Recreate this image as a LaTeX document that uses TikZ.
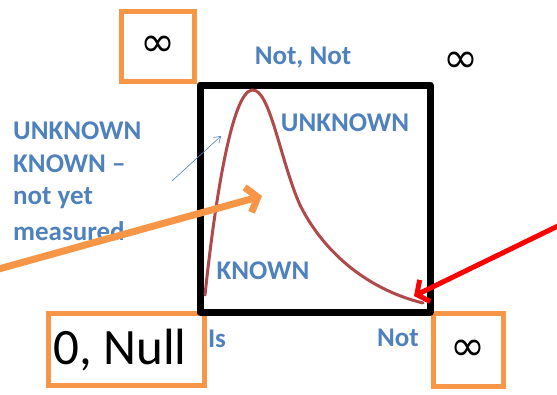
\documentclass[tikz,border=0pt]{standalone}
\usepackage{fontspec}
\setmainfont{Carlito}
\newfontfamily\dvs{DejaVu Sans}
\usetikzlibrary{arrows.meta}
\definecolor{ofc}{HTML}{F79646}
\definecolor{bluetxt}{HTML}{4F81BD}
\definecolor{curvec}{HTML}{B04A4A}
\tikzset{
  lbl/.style={text=bluetxt,font=\fontsize{27}{30}\selectfont\bfseries,inner sep=0pt},
  obox/.style={draw=ofc,line width=5pt},
  inf/.style={font=\dvs\fontsize{42}{42}\selectfont,inner sep=0pt},
}
\begin{document}
\begin{tikzpicture}[x=1pt,y=-1pt]
\useasboundingbox (0,0) rectangle (557,394);
% orange boxes
\node[obox,minimum width=73pt,minimum height=70pt] (tl) at (158,46) {};
\node[inf] (inftl) at (158,46) {∞};
\node[obox,minimum width=156pt,minimum height=72pt] (bl) at (126,349) {};
\node[inner sep=0pt,font=\fontsize{51}{51}\selectfont] (zero) at (120,350) {0, Null};
\node[obox,minimum width=70pt,minimum height=73pt] (br) at (468,350) {};
\node[inf] (infbr) at (468,350) {∞};
\node[inf] (inftr) at (461,62) {∞};
% black square
\draw[line width=7pt,line join=round] (200,85) rectangle (430,312);
% curve
\draw[curvec,line width=3pt,line cap=round]
  (205,295) .. controls (215,200) and (232,92) .. (252,90)
  .. controls (270,88) and (280,160) .. (300,205)
  .. controls (325,255) and (370,290) .. (423,303);
% labels
\node[lbl] (notnot) at (303,58) {Not, Not};
\node[lbl] (unk) at (345,123) {UNKNOWN};
\node[lbl] (known) at (263,271) {KNOWN};
\node[lbl] (is) at (217,339) {Is};
\node[lbl] (not) at (398,338) {Not};
\node[lbl,anchor=west] (l1) at (13,131) {UNKNOWN};
\node[lbl,anchor=west] (l2) at (13,164) {KNOWN –};
\node[lbl,anchor=west] (l3) at (13,198) {not yet};
\node[lbl,anchor=west] (l4) at (13,231) {measured};
% arrows
\coordinate (ta) at (172,181);
\coordinate (tb) at (221,136);
\draw[bluetxt,line width=0.6pt,-{Straight Barb[length=6pt,width=8pt]}] (ta) -- (tb);
\coordinate (oa) at (-5,270);
\coordinate (ob) at (262,196);
\draw[ofc,line width=7pt,-{Straight Barb[length=10pt,width=26pt,line width=7pt]}] (oa) -- (ob);
\coordinate (ra) at (560,225);
\coordinate (rb) at (414,296);
\draw[red,line width=5pt,-{Straight Barb[length=9pt,width=24pt,line width=5pt]}] (ra) -- (rb);
\end{tikzpicture}
\end{document}
